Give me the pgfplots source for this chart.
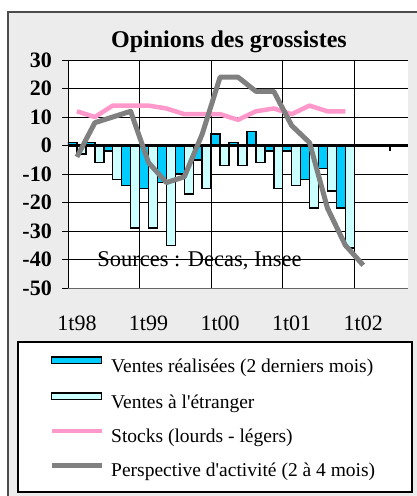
\documentclass[border=0pt]{standalone}
\usepackage{fontspec}
\setmainfont{Liberation Serif}
\usepackage{pgfplots}
\pgfplotsset{compat=1.18}

\definecolor{ventes}{RGB}{0,204,255}
\definecolor{etranger}{RGB}{204,255,255}
\definecolor{stocks}{RGB}{255,153,204}
\definecolor{persp}{RGB}{128,128,128}
\definecolor{fond}{RGB}{236,236,236}

% quarters 1t98 ... 4t01 (index 0..15), perspective goes one quarter further
\pgfplotstableread{
q  ventes etranger stocks
0    1     -3      12
1    1     -6      10
2   -2    -12      14
3  -14    -29      14
4  -15    -29      14
5  -13    -35      13
6  -10    -17      11
7   -5    -15      11
8    4     -7      11
9    1     -7       9
10   5     -6      12
11  -2    -15      13
12  -2    -14      11
13 -12    -22      14
14  -8    -16      12
15 -22    -36      12
}\grossistes

\pgfplotstableread{
q  persp
0   -4
1    8
2   10
3   12
4   -6
5  -13
6  -11
7    4
8   24
9   24
10  19
11  19
12   7
13   1
14 -22
15 -35
16 -42
}\perspective

\begin{document}
\begin{tikzpicture}
\useasboundingbox (0,0) rectangle (417pt,496pt);
\fill[fond] (8pt,0) rectangle (417pt,484pt);
\draw[line width=1.5pt, black!70] (8pt,0) -- (8pt,484pt) -- (417pt,484pt);
\node[anchor=base, font=\bfseries\fontsize{24}{28}\selectfont] at (229pt,448pt) {Opinions des grossistes};
\draw[line width=2pt, fill=white] (18pt,4pt) rectangle (412pt,154pt);

\begin{axis}[
  at={(68pt,208pt)}, anchor=south west,
  scale only axis, width=340pt, height=228pt,
  xmin=-0.5, xmax=18.5, ymin=-50, ymax=30,
  axis background/.style={fill=white},
  axis y line*=left, axis x line*=bottom,
  x axis line style={black!60, line width=1pt},
  y axis line style={black, line width=0.8pt},
  xtick={-0.5,3.5,7.5,11.5,15.5},
  xticklabels={1t98,1t99,1t00,1t01,1t02},
  xtick style={draw=none},
  ytick={-50,-40,...,30},
  yticklabels={-50,-40,-30,-20,-10,0,10,20,30},
  tick align=outside, major tick length=6pt,
  ytick style={black, line width=0.8pt},
  xmajorgrids, ymajorgrids,
  grid style={black, line width=0.8pt},
  tick label style={font=\fontsize{22}{26}\selectfont},
  yticklabel style={font=\bfseries\fontsize{22}{26}\selectfont, anchor=east, inner xsep=0pt, xshift=-10pt},
  xticklabel style={anchor=base, xshift=8.95pt, yshift=-36pt},
  legend cell align=left,
  legend style={at={(-0.0559,-0.2982)}, anchor=north west, draw=none, fill=none,
    inner sep=0pt, row sep=15pt, column sep=7pt,
    font=\fontsize{19.5}{23}\selectfont,
    nodes={inner sep=0pt, text height=14pt, text depth=5pt}},
]
\addplot[ybar, bar width=8.95pt, bar shift=-4.47pt, fill=ventes, draw=black, line width=1.5pt,
  legend image code/.code={\draw[fill=ventes, draw=black, line width=1.5pt] (0pt,4.5pt) rectangle (50pt,11pt);}]
  table[x=q, y=ventes] {\grossistes};
\addlegendentry{Ventes réalisées (2 derniers mois)}
\addplot[ybar, bar width=8.95pt, bar shift=4.47pt, fill=etranger, draw=black, line width=1.5pt,
  legend image code/.code={\draw[fill=etranger, draw=black, line width=1.5pt] (0pt,4.5pt) rectangle (50pt,11pt);}]
  table[x=q, y=etranger] {\grossistes};
\addlegendentry{Ventes à l\textquotesingle étranger}
% category axis at zero
\addplot[black, line width=2.6pt, forget plot] coordinates {(-0.5,0) (18.5,0)};
\addplot[black, line width=1.5pt, forget plot] coordinates {(17.5,0) (17.5,-2)};
\addplot[stocks, line width=4.5pt, line join=round, mark=none,
  legend image code/.code={\draw[stocks, line width=4.5pt] (0pt,7pt) -- (50pt,7pt);}]
  table[x=q, y=stocks] {\grossistes};
\addlegendentry{Stocks (lourds - légers)}
\addplot[persp, line width=5pt, line join=round, mark=none,
  legend image code/.code={\draw[persp, line width=5pt] (0pt,7pt) -- (50pt,7pt);}]
  table[x=q, y=persp] {\perspective};
\addlegendentry{Perspective d\textquotesingle activité (2 à 4 mois)}
\node[anchor=base, font=\fontsize{22.5}{26}\selectfont] at (axis cs:6.85,-42.5) {Sources : Decas, Insee};
\end{axis}
\end{tikzpicture}
\end{document}
